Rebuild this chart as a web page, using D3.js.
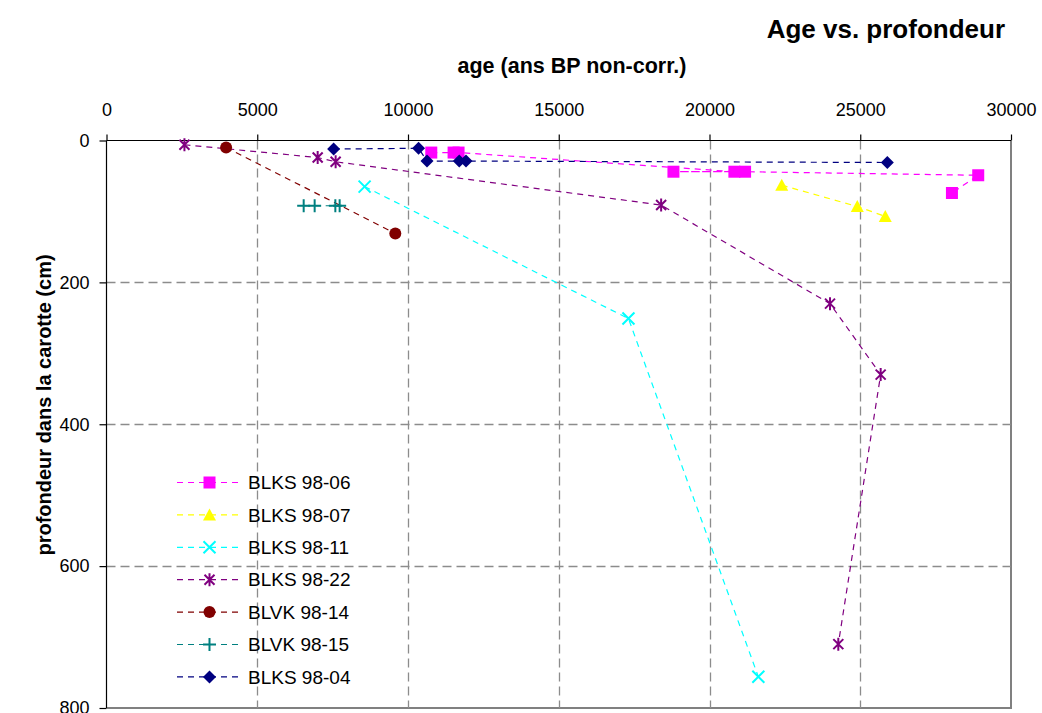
<!DOCTYPE html>
<html><head><meta charset="utf-8">
<script src="https://cdn.jsdelivr.net/npm/d3@7"></script>
<style>body{margin:0;background:#fff}svg{display:block}text{font-family:"Liberation Sans",Arial,sans-serif}</style>
</head><body><svg id="c" width="1042" height="713"></svg>
<script>
const seriesNames = ["BLKS 98-06","BLKS 98-07","BLKS 98-11","BLKS 98-22","BLVK 98-14","BLVK 98-15","BLKS 98-04"];
const seriesColors = ["#FF00FF","#FFFF00","#00FFFF","#800080","#800000","#008080","#000080"];
const seriesSymbols = ["square","triangle","x","star","circle","plus","diamond"];
const ages06 = [10772,11512,11677,20825,18804,21180,28913,28041];
const depths06 = [17,17,17,44,44,44,49,74];
const ages07 = [22396,24902,25830];
const depths07 = [63,93,107];
const ages11 = [8561,17312,21620];
const depths11 = [65,251,756];
const ages22 = [2585,7004,7600,18396,23997,25677,24272];
const depths22 = [6,24,30,91,230,330,710];
const ages14 = [3967,9579];
const depths14 = [10,131];
const ages15 = [6540,6904,7590,7733];
const depths15 = [92,92,92,92];
const ages04 = [7534,10351,10630,11700,11923,25897];
const depths04 = [12,11,29,29,29,31];
const xTicks = [0,5000,10000,15000,20000,25000,30000];
const yTicks = [0,200,400,600,800];

const seriesAges = [ages06,ages07,ages11,ages22,ages14,ages15,ages04];
const seriesDepths = [depths06,depths07,depths11,depths22,depths14,depths15,depths04];
const series = seriesNames.map((n,i)=>({name:n,color:seriesColors[i],sym:seriesSymbols[i],
  pts:seriesAges[i].map((a,j)=>({a,d:seriesDepths[i][j]}))}));

const svg = d3.select("#c");
const L=106.5, R=1011, T=140.5, B=708;
const x = d3.scaleLinear().domain([0,30000]).range([L,R]);
const y = d3.scaleLinear().domain([0,800]).range([T,B]);

// frame right/bottom gray
svg.append("path").attr("d",`M${L},${B}H${R}V${T}`).attr("fill","none").attr("stroke","#808080").attr("stroke-width",2);

// grid
const g = svg.append("g");
g.selectAll(".vg").data(xTicks.filter(t=>t>0&&t<30000)).join("line")
  .attr("x1",d=>Math.round(x(d))+0.5).attr("x2",d=>Math.round(x(d))+0.5).attr("y1",T).attr("y2",B)
  .attr("stroke","#8c8c8c").attr("stroke-width",1.3).attr("stroke-dasharray","9,5");
g.selectAll(".hg").data(yTicks.filter(t=>t>0&&t<800)).join("line")
  .attr("y1",d=>Math.round(y(d))+0.5).attr("y2",d=>Math.round(y(d))+0.5).attr("x1",L).attr("x2",R)
  .attr("stroke","#8c8c8c").attr("stroke-width",1.3).attr("stroke-dasharray","9,5");

// axes
const xAxis = d3.axisTop(x).tickValues(xTicks).tickSize(6).tickPadding(19).tickFormat(d3.format("d"));
const xa = svg.append("g").attr("transform",`translate(0,${T})`).call(xAxis);
const yAxis = d3.axisLeft(y).tickValues(yTicks).tickSize(7).tickPadding(10).tickFormat(d3.format("d"));
const ya = svg.append("g").attr("transform",`translate(${L},0)`).call(yAxis);
[xa,ya].forEach(a=>{
  a.select(".domain").attr("stroke","#000").attr("stroke-width",1.2);
  a.selectAll(".tick line").attr("stroke","#000").attr("stroke-width",1.2);
  a.selectAll(".tick text").attr("font-family","Liberation Sans, Arial, sans-serif").attr("font-size",18).attr("fill","#000");
});
xa.select(".domain").attr("d",`M${L},0H${R}`);
ya.select(".domain").attr("d",`M0,${T}V${B}`);

// symbols
function drawSymbol(sel, sym, color){
  const s=6;
  if(sym==="square") sel.append("rect").attr("x",-s).attr("y",-s).attr("width",2*s).attr("height",2*s).attr("fill",color);
  else if(sym==="triangle") sel.append("path").attr("d",`M0,${-s-0.5}L${s+0.5},${s-0.5}L${-s-0.5},${s-0.5}Z`).attr("fill",color);
  else if(sym==="diamond") sel.append("path").attr("d",`M0,${-s-0.5}L${s+0.5},0L0,${s+0.5}L${-s-0.5},0Z`).attr("fill",color);
  else if(sym==="circle") sel.append("circle").attr("r",s).attr("fill",color);
  else if(sym==="x") sel.append("path").attr("d",`M${-s},${-s}L${s},${s}M${s},${-s}L${-s},${s}`).attr("stroke",color).attr("stroke-width",2);
  else if(sym==="star") sel.append("path").attr("d",`M${-s+1},${-s+1}L${s-1},${s-1}M${s-1},${-s+1}L${-s+1},${s-1}M0,${-s-0.5}V${s+0.5}`).attr("stroke",color).attr("stroke-width",2);
  else if(sym==="plus") sel.append("path").attr("d",`M${-s-0.5},0H${s+0.5}M0,${-s-0.5}V${s+0.5}`).attr("stroke",color).attr("stroke-width",2);
}

const line = d3.line().x(p=>x(p.a)).y(p=>y(p.d));
series.forEach(s=>{
  const gs = svg.append("g");
  gs.append("path").attr("d",line(s.pts)).attr("fill","none").attr("stroke",s.color)
    .attr("stroke-width",1.2).attr("stroke-dasharray","6,5");
  s.pts.forEach(p=>{
    drawSymbol(gs.append("g").attr("transform",`translate(${x(p.a)},${y(p.d)})`), s.sym, s.color);
  });
});

// legend
const lg = svg.append("g");
series.forEach((s,i)=>{
  const yy = 482.5 + i*32.4;
  const r = lg.append("g").attr("transform",`translate(0,${yy})`);
  r.append("line").attr("x1",177).attr("x2",242).attr("y1",0).attr("y2",0).attr("stroke",s.color).attr("stroke-width",1.2).attr("stroke-dasharray","6,5");
  drawSymbol(r.append("g").attr("transform","translate(209.5,0)"), s.sym, s.color);
  r.append("text").attr("x",248).attr("y",0).attr("dy","0.35em").attr("font-size",19).attr("fill","#000").text(s.name);
});

// titles
svg.append("text").attr("x",1005).attr("y",38).attr("text-anchor","end").attr("font-size",26).attr("font-weight","bold").text("Age vs. profondeur");
svg.append("text").attr("x",572).attr("y",73).attr("text-anchor","middle").attr("font-size",21.5).attr("font-weight","bold").text("age (ans BP non-corr.)");
svg.append("text").attr("transform","translate(51,405) rotate(-90)").attr("text-anchor","middle").attr("font-size",20).attr("font-weight","bold").text("profondeur dans la carotte (cm)");
</script></body></html>
